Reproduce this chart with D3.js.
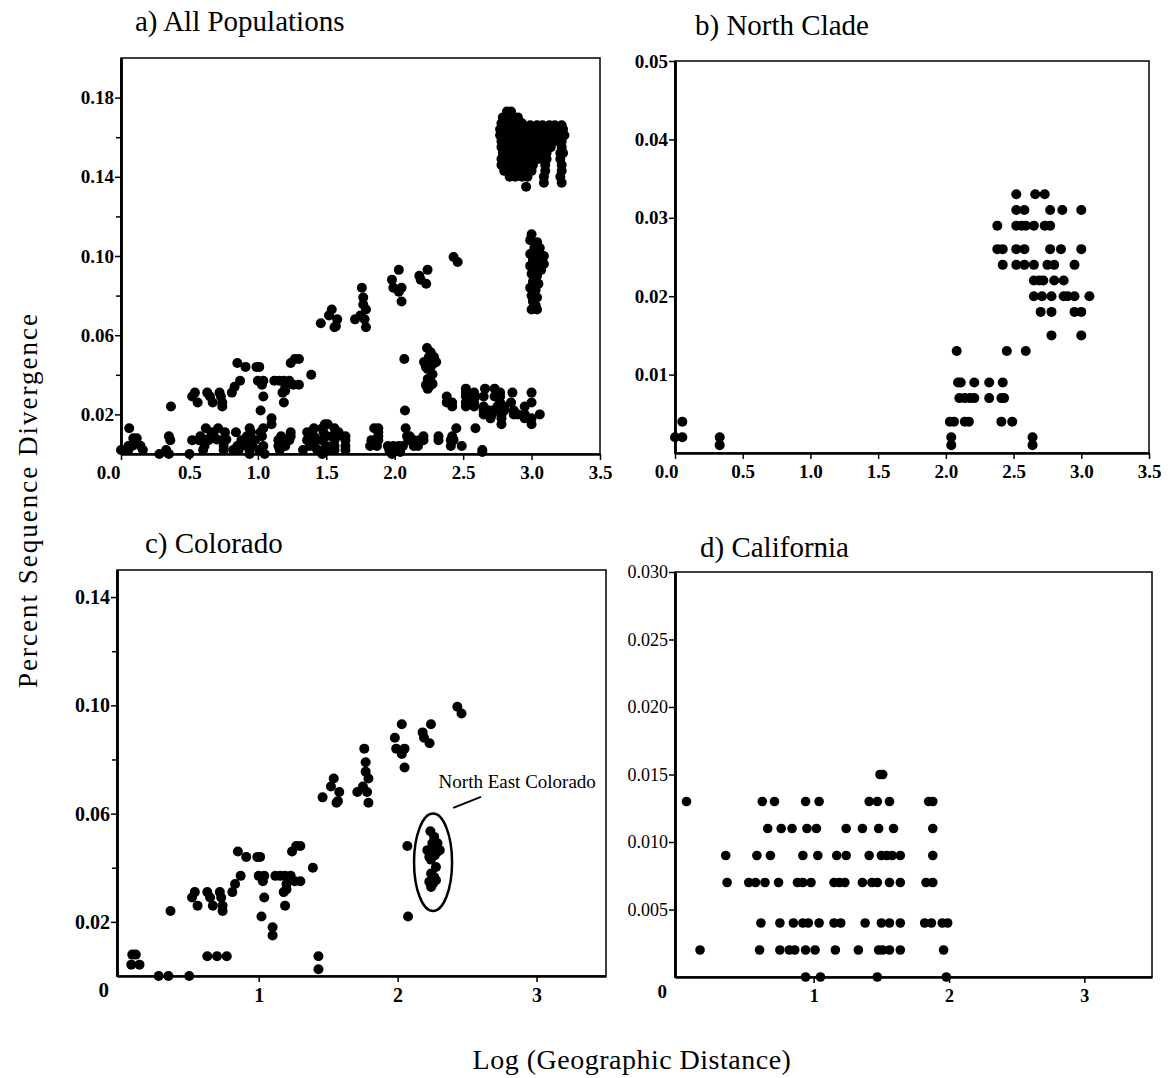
<!DOCTYPE html>
<html>
<head>
<meta charset="utf-8">
<script src="https://cdn.jsdelivr.net/npm/d3@7"></script>
<style>
body { margin: 0; background: #fff; }
svg text { font-family: "Liberation Serif", "Times New Roman", serif; fill: #000; }
</style>
</head>
<body>
<script>
// Colorado pairs: [log distance, sequence divergence]
var colorado = [
  [0.09, 0.0079], [0.115, 0.0079], [0.083, 0.0042], [0.142, 0.0042],
  [0.28, 0], [0.35, 0], [0.50, 0],
  [0.63, 0.0073], [0.70, 0.0073], [0.77, 0.0073],
  [1.43, 0.0073], [1.43, 0.0025],
  [0.365, 0.024],
  [0.52, 0.029], [0.54, 0.031], [0.56, 0.026],
  [0.63, 0.031], [0.65, 0.029], [0.67, 0.026],
  [0.72, 0.031], [0.73, 0.029], [0.74, 0.026], [0.74, 0.024],
  [0.81, 0.031], [0.83, 0.034],
  [0.87, 0.037], [0.85, 0.046], [0.91, 0.044], [0.99, 0.044], [1.01, 0.044],
  [1.00, 0.037], [1.04, 0.037], [1.03, 0.035], [1.04, 0.029], [1.02, 0.022],
  [1.10, 0.018], [1.10, 0.015],
  [1.12, 0.037], [1.155, 0.037], [1.19, 0.037], [1.23, 0.037], [1.20, 0.034], [1.18, 0.031], [1.20, 0.032], [1.19, 0.026],
  [1.24, 0.046], [1.27, 0.048], [1.30, 0.048],
  [1.26, 0.035], [1.30, 0.035],
  [1.39, 0.040],
  [1.46, 0.066], [1.54, 0.073], [1.52, 0.070], [1.58, 0.068], [1.57, 0.0646], [1.56, 0.064],
  [1.71, 0.068], [1.76, 0.084], [1.77, 0.079], [1.77, 0.0755], [1.79, 0.073], [1.78, 0.068], [1.79, 0.064], [1.75, 0.070],
  [1.98, 0.088], [1.99, 0.084], [2.03, 0.093], [2.03, 0.082], [2.05, 0.084], [2.05, 0.077],
  [2.18, 0.090], [2.19, 0.088], [2.24, 0.093], [2.23, 0.086],
  [2.43, 0.0995], [2.46, 0.097],
  [2.07, 0.048], [2.075, 0.022],
  [2.236, 0.0535], [2.263, 0.0514], [2.287, 0.049], [2.214, 0.0465], [2.255, 0.0465], [2.303, 0.0465],
  [2.228, 0.044], [2.268, 0.0446], [2.25, 0.049], [2.29, 0.046], [2.24, 0.043],
  [2.276, 0.0403], [2.241, 0.0379], [2.263, 0.0366], [2.228, 0.0348], [2.255, 0.0342], [2.276, 0.0354], [2.241, 0.0329]
];

var northClade = [
  [0, 0.002], [0.054, 0.002], [0.054, 0.004],
  [0.33, 0.002], [0.33, 0.001],
  [2.04, 0.002], [2.04, 0.001],
  [2.03, 0.004], [2.06, 0.004], [2.14, 0.004], [2.17, 0.004], [2.41, 0.004], [2.49, 0.004],
  [2.10, 0.007], [2.14, 0.007], [2.18, 0.007], [2.21, 0.007], [2.32, 0.007], [2.41, 0.007], [2.43, 0.007],
  [2.09, 0.009], [2.11, 0.009], [2.21, 0.009], [2.32, 0.009], [2.42, 0.009],
  [2.08, 0.013], [2.45, 0.013], [2.59, 0.013],
  [2.64, 0.002], [2.64, 0.001],
  [2.78, 0.015], [3.00, 0.015],
  [2.70, 0.018], [2.78, 0.018], [2.95, 0.018], [3.00, 0.018],
  [2.65, 0.020], [2.71, 0.020], [2.78, 0.020], [2.87, 0.020], [2.90, 0.020], [2.95, 0.020], [3.06, 0.020],
  [2.65, 0.022], [2.69, 0.022], [2.72, 0.022], [2.80, 0.022], [2.87, 0.022],
  [2.42, 0.024], [2.52, 0.024], [2.58, 0.024], [2.65, 0.024], [2.75, 0.024], [2.80, 0.024], [2.95, 0.024],
  [2.38, 0.026], [2.42, 0.026], [2.52, 0.026], [2.58, 0.026], [2.77, 0.026], [2.85, 0.026], [3.00, 0.026],
  [2.38, 0.029], [2.52, 0.029], [2.56, 0.029], [2.59, 0.029], [2.65, 0.029], [2.73, 0.029], [2.77, 0.029],
  [2.52, 0.031], [2.58, 0.031], [2.77, 0.031], [2.86, 0.031], [3.00, 0.031],
  [2.52, 0.033], [2.66, 0.033], [2.73, 0.033]
];

var california = [
  [0.06, 0.013], [0.16, 0.002],
  [0.35, 0.009], [0.58, 0.009], [0.68, 0.009], [0.92, 0.009], [1.03, 0.009], [1.17, 0.009], [1.24, 0.009],
  [1.41, 0.009], [1.50, 0.009], [1.54, 0.009], [1.58, 0.009], [1.64, 0.009], [1.88, 0.009],
  [0.36, 0.007], [0.52, 0.007], [0.57, 0.007], [0.64, 0.007], [0.74, 0.007], [0.88, 0.007], [0.92, 0.007],
  [0.98, 0.007], [1.15, 0.007], [1.19, 0.007], [1.23, 0.007], [1.36, 0.007], [1.43, 0.007], [1.47, 0.007],
  [1.56, 0.007], [1.64, 0.007], [1.83, 0.007], [1.88, 0.007],
  [0.66, 0.011], [0.76, 0.011], [0.84, 0.011], [0.95, 0.011], [1.02, 0.011], [1.24, 0.011], [1.36, 0.011],
  [1.48, 0.011], [1.59, 0.011], [1.88, 0.011],
  [0.62, 0.013], [0.71, 0.013], [0.94, 0.013], [1.04, 0.013], [1.41, 0.013], [1.47, 0.013], [1.56, 0.013],
  [1.85, 0.013], [1.88, 0.013],
  [1.49, 0.015], [1.51, 0.015],
  [0.61, 0.004], [0.75, 0.004], [0.85, 0.004], [0.92, 0.004], [0.96, 0.004], [1.04, 0.004], [1.15, 0.004],
  [1.20, 0.004], [1.38, 0.004], [1.50, 0.004], [1.56, 0.004], [1.64, 0.004], [1.82, 0.004], [1.87, 0.004],
  [1.95, 0.004], [1.99, 0.004],
  [0.60, 0.002], [0.75, 0.002], [0.82, 0.002], [0.86, 0.002], [0.94, 0.002], [1.01, 0.002], [1.16, 0.002],
  [1.33, 0.002], [1.48, 0.002], [1.51, 0.002], [1.56, 0.002], [1.64, 0.002], [1.96, 0.002],
  [0.94, 0], [1.05, 0], [1.47, 0], [1.98, 0]
];

// pairs between clades, only shown in panel a
var betweenClades = [
  [2.82, 0.173], [2.85, 0.173],
  [2.79, 0.170], [2.83, 0.170], [2.87, 0.170], [2.90, 0.170],
  [2.78, 0.167], [2.81, 0.167], [2.85, 0.167], [2.89, 0.167], [2.93, 0.167], [2.99, 0.166], [3.04, 0.166],
  [3.08, 0.166], [3.13, 0.166], [3.17, 0.166], [3.22, 0.166],
  [2.77, 0.164], [2.80, 0.164], [2.84, 0.164], [2.88, 0.164], [2.92, 0.164], [2.96, 0.164], [3.00, 0.164],
  [3.05, 0.164], [3.09, 0.164], [3.14, 0.164], [3.18, 0.164], [3.23, 0.164],
  [2.77, 0.161], [2.81, 0.161], [2.85, 0.161], [2.89, 0.161], [2.93, 0.161], [2.97, 0.161], [3.02, 0.161],
  [3.06, 0.161], [3.11, 0.161], [3.15, 0.161], [3.20, 0.161], [3.24, 0.161],
  [2.78, 0.158], [2.82, 0.158], [2.86, 0.158], [2.90, 0.158], [2.94, 0.158], [2.99, 0.158], [3.03, 0.158],
  [3.08, 0.158], [3.12, 0.158], [3.17, 0.158], [3.22, 0.158],
  [2.78, 0.155], [2.81, 0.155], [2.85, 0.155], [2.89, 0.155], [2.93, 0.155], [2.97, 0.155], [3.01, 0.155],
  [3.05, 0.155], [3.10, 0.155], [3.14, 0.155], [3.22, 0.155],
  [2.79, 0.152], [2.83, 0.152], [2.87, 0.152], [2.91, 0.152], [2.95, 0.152], [2.99, 0.152], [3.03, 0.152],
  [3.07, 0.152], [3.11, 0.152], [3.21, 0.152], [3.23, 0.152],
  [2.78, 0.149], [2.82, 0.149], [2.86, 0.149], [2.90, 0.149], [2.94, 0.149], [2.98, 0.149], [3.02, 0.149],
  [3.05, 0.149], [3.11, 0.149], [3.21, 0.149],
  [2.78, 0.146], [2.81, 0.146], [2.85, 0.146], [2.89, 0.146], [2.93, 0.146], [2.97, 0.146], [3.01, 0.146],
  [3.10, 0.146], [3.22, 0.146],
  [2.80, 0.143], [2.84, 0.143], [2.88, 0.143], [2.92, 0.143], [2.96, 0.143], [3.00, 0.143], [3.10, 0.143], [3.22, 0.143],
  [2.84, 0.140], [2.88, 0.140], [2.93, 0.140], [2.97, 0.140], [3.09, 0.140], [3.21, 0.140],
  [3.09, 0.137], [3.22, 0.137], [2.96, 0.135],
  [3.00, 0.111], [2.99, 0.108], [3.04, 0.107], [3.02, 0.104], [3.06, 0.104], [2.99, 0.101], [3.04, 0.101],
  [3.09, 0.100], [3.01, 0.098], [3.06, 0.097], [3.09, 0.096], [2.99, 0.095], [3.03, 0.094], [3.07, 0.093],
  [3.00, 0.091], [3.04, 0.090], [3.01, 0.087], [3.05, 0.086], [2.99, 0.084], [3.03, 0.083], [3.00, 0.080],
  [3.04, 0.079], [3.01, 0.077], [3.03, 0.075], [3.00, 0.073], [3.04, 0.073]
];

var allPopulations = colorado.concat(northClade, california, betweenClades);

// tick values
var xTicksHalf = [0, 0.5, 1.0, 1.5, 2.0, 2.5, 3.0, 3.5];
var xTicksWhole = [1, 2, 3];
var yMajorA = [0.02, 0.06, 0.10, 0.14, 0.18];
var yMinorA = [0.04, 0.08, 0.12, 0.16];
var yMajorB = [0.01, 0.02, 0.03, 0.04, 0.05];
var yMajorC = [0.02, 0.06, 0.10, 0.14];
var yMinorC = [0.04, 0.08, 0.12];
var yMajorD = [0.005, 0.010, 0.015, 0.020, 0.025, 0.030];

var serif = '"Liberation Serif", "Times New Roman", serif';
var sans = '"Liberation Sans Narrow", "Liberation Sans", Arial, sans-serif';

var svg = d3.select("body").append("svg")
  .attr("width", 1171)
  .attr("height", 1078);

function main() {
  drawPanel({
    title: "a) All Populations", tx: 135, ty: 31,
    data: allPopulations, r: 5,
    left: 121, right: 600, top: 58, bottom: 454,
    xDomain: [0, 3.5], yDomain: [0, 0.2],
    xTicks: xTicksHalf, xFormat: d3.format(".1f"), firstDx: -13,
    yMajor: yMajorA, yMinor: yMinorA, yFormat: d3.format(".2f"),
    tickFont: serif, tickSize: 19, yWeight: "bold"
  });
  drawPanel({
    title: "b) North Clade", tx: 695, ty: 35,
    data: northClade, r: 5,
    left: 675, right: 1149, top: 61, bottom: 453,
    xDomain: [0, 3.5], yDomain: [0, 0.05],
    xTicks: xTicksHalf, xFormat: d3.format(".1f"), firstDx: -9,
    yMajor: yMajorB, yMinor: [], yFormat: d3.format(".2f"),
    tickFont: serif, tickSize: 19, yWeight: "bold"
  });
  var c = drawPanel({
    title: "c) Colorado", tx: 145, ty: 553,
    data: colorado, r: 5,
    left: 117, right: 606, top: 570, bottom: 976,
    xDomain: [-0.02, 3.5], yDomain: [0, 0.15],
    xTicks: xTicksWhole, xFormat: d3.format("d"),
    yMajor: yMajorC, yMinor: yMinorC, yFormat: d3.format(".2f"),
    tickFont: serif, tickSize: 20, yWeight: "bold", zeroLabel: true
  });
  drawPanel({
    title: "d) California", tx: 700, ty: 557,
    data: california, r: 4.8,
    left: 675, right: 1152, top: 572, bottom: 977,
    xDomain: [-0.025, 3.5], yDomain: [0, 0.03],
    xTicks: xTicksWhole, xFormat: d3.format("d"),
    yMajor: yMajorD, yMinor: [], yFormat: d3.format(".3f"),
    tickFont: sans, tickSize: 18, yWeight: "normal", zeroLabel: true
  });

  // North East Colorado annotation
  c.g.append("ellipse")
    .attr("cx", c.x(2.255)).attr("cy", c.y(0.042))
    .attr("rx", 19).attr("ry", c.y(0.024) - c.y(0.042))
    .attr("fill", "none").attr("stroke", "#000").attr("stroke-width", 2.5);
  c.g.append("line")
    .attr("x1", c.x(2.40)).attr("y1", c.y(0.0621))
    .attr("x2", c.x(2.60)).attr("y2", c.y(0.0662))
    .attr("stroke", "#000").attr("stroke-width", 2);
  c.g.append("text")
    .attr("x", c.x(2.295)).attr("y", c.y(0.0693))
    .attr("font-size", 19)
    .text("North East Colorado");

  svg.append("text")
    .attr("transform", "translate(37,500) rotate(-90)")
    .attr("text-anchor", "middle")
    .attr("font-size", 27)
    .attr("letter-spacing", 2)
    .text("Percent Sequence Divergence");

  svg.append("text")
    .attr("x", 632).attr("y", 1069)
    .attr("text-anchor", "middle")
    .attr("font-size", 28)
    .attr("letter-spacing", 0.5)
    .text("Log (Geographic Distance)");
}

function drawPanel(p) {
  var x = d3.scaleLinear().domain(p.xDomain).range([p.left, p.right]);
  var y = d3.scaleLinear().domain(p.yDomain).range([p.bottom, p.top]);
  var g = svg.append("g");

  g.append("rect")
    .attr("x", p.left).attr("y", p.top)
    .attr("width", p.right - p.left).attr("height", p.bottom - p.top)
    .attr("fill", "none").attr("stroke", "#000").attr("stroke-width", 1.5);

  var yAxis = g.append("g")
    .attr("transform", "translate(" + p.left + ",0)")
    .call(d3.axisLeft(y).tickValues(p.yMajor).tickSize(6).tickSizeOuter(0).tickPadding(1).tickFormat(p.yFormat));
  g.append("g")
    .attr("transform", "translate(" + p.left + ",0)")
    .call(d3.axisLeft(y).tickValues(p.yMinor).tickSize(5).tickSizeOuter(0).tickFormat(""));

  var xAxis = g.append("g")
    .attr("transform", "translate(0," + p.bottom + ")")
    .call(d3.axisBottom(x).tickValues(p.xTicks).tickSize(6).tickSizeOuter(0).tickPadding(6).tickFormat(p.xFormat));

  g.selectAll(".domain").attr("stroke-width", 2.5);
  g.selectAll(".tick line").attr("stroke-width", 1.5);
  g.selectAll(".tick text")
    .attr("font-family", p.tickFont)
    .attr("font-size", p.tickSize)
    .attr("font-weight", "bold");
  yAxis.selectAll(".tick text").attr("font-weight", p.yWeight);
  if (p.firstDx) {
    xAxis.select(".tick text").attr("dx", p.firstDx);
  }

  if (p.zeroLabel) {
    g.append("text")
      .attr("x", p.left - 8).attr("y", p.bottom + 21)
      .attr("text-anchor", "end")
      .attr("font-family", p.tickFont)
      .attr("font-size", p.tickSize + 1)
      .attr("font-weight", "bold")
      .text("0");
  }

  g.append("g").selectAll("circle")
    .data(p.data)
    .enter()
    .append("circle")
    .attr("cx", function(d) { return x(d[0]); })
    .attr("cy", function(d) { return y(d[1]); })
    .attr("r", p.r)
    .attr("fill", "#000");

  g.append("text")
    .attr("x", p.tx).attr("y", p.ty)
    .attr("font-size", 29)
    .text(p.title);

  return {g: g, x: x, y: y};
}

main();
</script>
</body>
</html>
